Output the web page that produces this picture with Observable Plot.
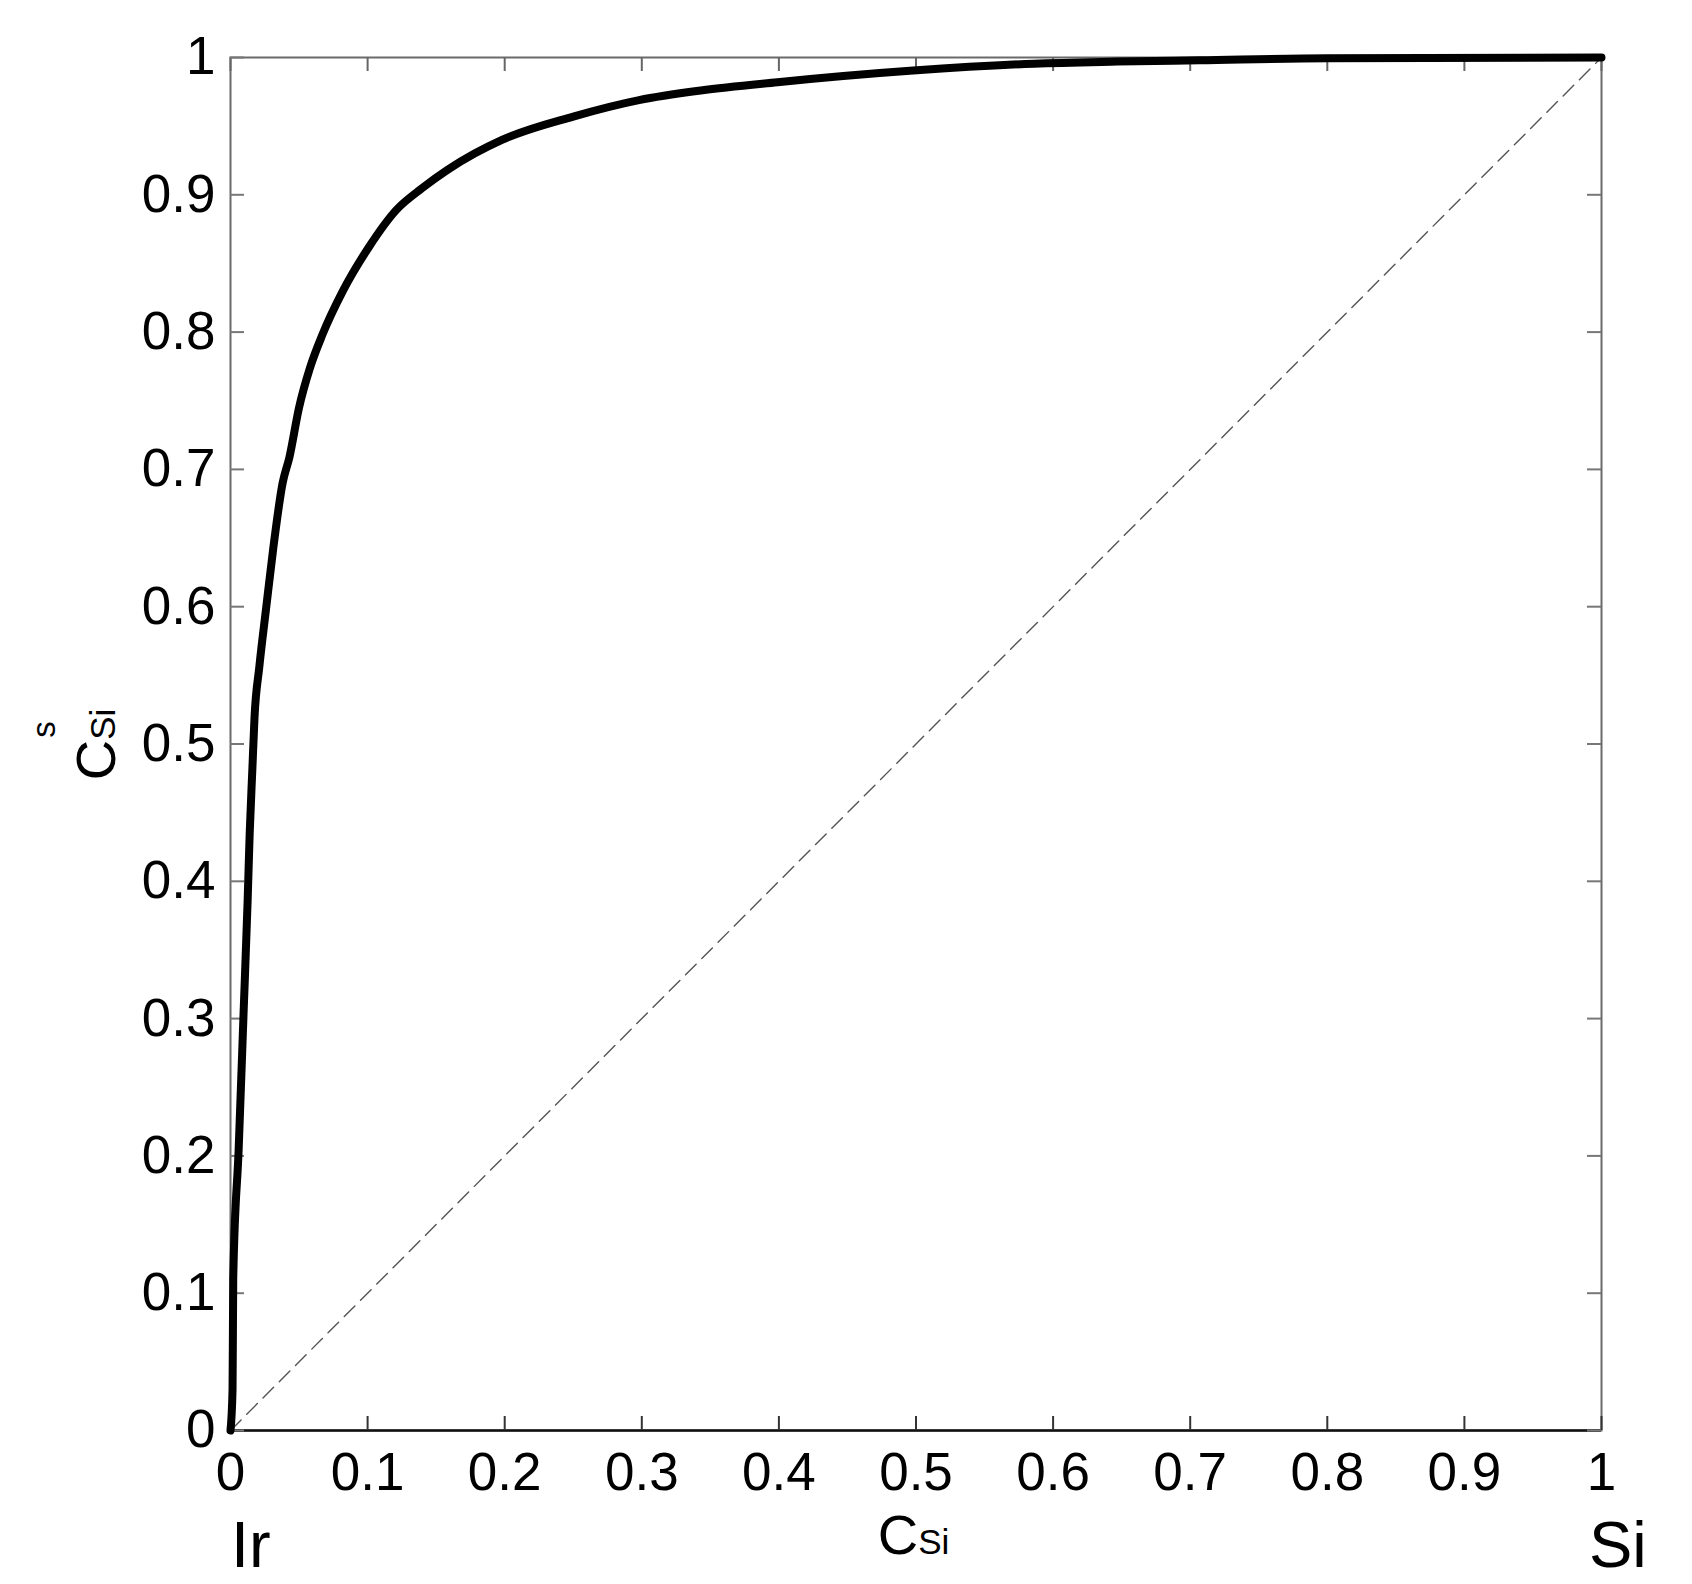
<!DOCTYPE html>
<html>
<head>
<meta charset="utf-8">
<script src="https://cdn.jsdelivr.net/npm/d3@7"></script>
<script src="https://cdn.jsdelivr.net/npm/@observablehq/plot@0.6"></script>
<style>
  html, body { margin: 0; padding: 0; background: #fff; }
</style>
</head>
<body>
<div id="chart"></div>
<script>
// Liquid composition C_Si vs solid composition C_Si^s (Ir–Si)
const cSi  = [0, 0.0015, 0.002, 0.006, 0.0095, 0.0125, 0.014, 0.016, 0.0175, 0.021, 0.026, 0.031, 0.038, 0.043, 0.050, 0.058, 0.067, 0.082, 0.101, 0.121, 0.140, 0.158, 0.178, 0.198, 0.250, 0.298, 0.343, 0.399, 0.498, 0.586, 0.647, 0.707, 0.8, 1];
const cSiS = [0, 0.03, 0.111, 0.206, 0.303, 0.386, 0.435, 0.483, 0.519, 0.556, 0.599, 0.641, 0.690, 0.709, 0.745, 0.774, 0.798, 0.830, 0.862, 0.889, 0.905, 0.918, 0.930, 0.940, 0.957, 0.969, 0.976, 0.982, 0.9905, 0.9955, 0.997, 0.998, 0.9995, 1];

const diagX = [0, 1];
const diagY = [0, 1];

const xTicks = [0, 0.1, 0.2, 0.3, 0.4, 0.5, 0.6, 0.7, 0.8, 0.9, 1];
const yTicks = [0, 0.1, 0.2, 0.3, 0.4, 0.5, 0.6, 0.7, 0.8, 0.9, 1];
const xTickLabels = ["0", "0.1", "0.2", "0.3", "0.4", "0.5", "0.6", "0.7", "0.8", "0.9", "1"];
const yTickLabels = ["0", "0.1", "0.2", "0.3", "0.4", "0.5", "0.6", "0.7", "0.8", "0.9", "1"];

const curve = cSi.map((x, i) => ({x, y: cSiS[i]}));
const diag = diagX.map((x, i) => ({x, y: diagY[i]}));

const FONT = "'Liberation Sans', Arial, Helvetica, sans-serif";
const W = 1692, H = 1584;
const mL = 230, mR = 91, mT = 57, mB = 154;
const tickLen = 14 / (W - mL - mR);
const tickLenY = 14 / (H - mT - mB);

const chart = Plot.plot({
  width: W,
  height: H,
  marginLeft: mL,
  marginRight: mR,
  marginTop: mT,
  marginBottom: mB,
  style: {fontFamily: FONT, fontSize: "53px", color: "#000", background: "#fff"},
  x: {domain: [0, 1], axis: null},
  y: {domain: [0, 1], axis: null},
  marks: [
    // dashed diagonal
    Plot.line(diag, {x: "x", y: "y", stroke: "#555", strokeWidth: 1.4, strokeDasharray: "15,8"}),
    // frame
    Plot.frame({stroke: "#6a6a6a", strokeWidth: 2}),
    Plot.ruleY([0], {stroke: "#111", strokeWidth: 2.5}),
    // inward ticks on four sides
    Plot.ruleX(xTicks, {x: d => d, y1: 0, y2: tickLenY, stroke: "#333", strokeWidth: 2}),
    Plot.ruleX(xTicks, {x: d => d, y1: 1, y2: 1 - tickLenY, stroke: "#666", strokeWidth: 2}),
    Plot.ruleY(yTicks, {y: d => d, x1: 0, x2: tickLen, stroke: "#777", strokeWidth: 2}),
    Plot.ruleY(yTicks, {y: d => d, x1: 1, x2: 1 - tickLen, stroke: "#777", strokeWidth: 2}),
    // tick labels
    Plot.axisX({ticks: xTicks, tickSize: 0, tickPadding: 22, tickFormat: (d, i) => xTickLabels[i], label: null, fontSize: 53, fill: "#000"}),
    Plot.axisY({ticks: yTicks, tickSize: 0, tickPadding: 15, tickFormat: (d, i) => yTickLabels[i], label: null, fontSize: 53, fill: "#000"}),
    // main curve
    Plot.line(curve, {x: "x", y: "y", stroke: "#000", strokeWidth: 8, curve: "monotone-x", strokeLinejoin: "round"})
  ]
});

document.getElementById("chart").appendChild(chart);

// axis titles and end labels (rich text with sub/superscripts)
const sx = chart.scale("x"), sy = chart.scale("y");
const svg = d3.select(chart);
const x0 = sx.apply(0), x1 = sx.apply(1), xm = sx.apply(0.5);
const y0 = sy.apply(0), y1 = sy.apply(1), ym = sy.apply(0.5);

// x title: C_Si
const xt = svg.append("text")
  .attr("x", xm - 2).attr("y", y0 + 124)
  .attr("text-anchor", "middle")
  .attr("font-family", FONT).attr("font-size", 56).attr("fill", "#000");
xt.append("tspan").text("C");
xt.append("tspan").attr("font-size", 35).text("Si");

// y title: C_Si^s (rotated)
const yt = svg.append("text")
  .attr("transform", `translate(${x0 - 115},${ym + 1}) rotate(-90)`)
  .attr("text-anchor", "middle")
  .attr("font-family", FONT).attr("font-size", 56).attr("fill", "#000");
yt.append("tspan").text("C");
yt.append("tspan").attr("font-size", 35).text("Si");
svg.append("text")
  .attr("transform", `translate(${x0 - 175},${ym - 14}) rotate(-90)`)
  .attr("text-anchor", "middle")
  .attr("font-family", FONT).attr("font-size", 33).attr("fill", "#000")
  .text("s");

// end labels
svg.append("text")
  .attr("x", x0 + 1).attr("y", y0 + 137)
  .attr("text-anchor", "start")
  .attr("font-family", FONT).attr("font-size", 65).attr("fill", "#000")
  .text("Ir");
svg.append("text")
  .attr("x", x1 - 12).attr("y", y0 + 137)
  .attr("text-anchor", "start")
  .attr("font-family", FONT).attr("font-size", 65).attr("fill", "#000")
  .text("Si");
</script>
</body>
</html>
